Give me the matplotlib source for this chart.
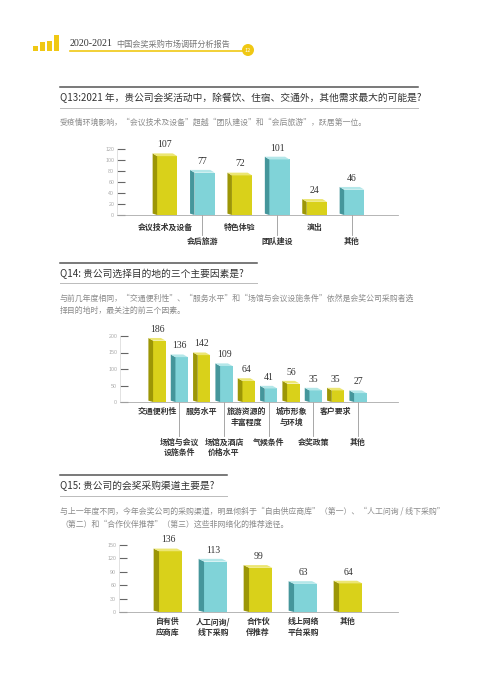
import numpy as np
import matplotlib
matplotlib.use('Agg')
import matplotlib.pyplot as plt
from matplotlib.patches import Rectangle, Circle
from matplotlib.transforms import blended_transform_factory

plt.rcParams['font.family'] = ['Noto Sans CJK SC', 'DejaVu Sans']

# Q13
q13_labels = ['会议技术及设备', '会后旅游', '特色体验', '团队建设', '演出', '其他']
q13_values = [107, 77, 72, 101, 24, 46]
q13_ticks = [0, 20, 40, 60, 80, 100, 120]

# Q14
q14_labels = ['交通便利性', '场馆与会议\n设施条件', '服务水平', '场馆及酒店\n价格水平',
              '旅游资源的\n丰富程度', '气候条件', '城市形象\n与环境', '会奖政策',
              '客户要求', '其他']
q14_values = [186, 136, 142, 109, 64, 41, 56, 35, 35, 27]
q14_ticks = [0, 50, 100, 150, 200]

# Q15
q15_labels = ['自有供\n应商库', '人工问询/\n线下采购', '合作伙\n伴推荐', '线上网络\n平台采购', '其他']
q15_values = [136, 113, 99, 63, 64]
q15_ticks = [0, 30, 60, 90, 120, 150]

PALETTE = {
    'y': ('#d9d11a', '#9c9606', '#ece673'),
    'c': ('#80d3d8', '#45969b', '#b4e7e9'),
}

W, H = 500, 696
fig = plt.figure(figsize=(5, 6.96), dpi=100)

# overlay in pixel coordinates for rules / header
bg = fig.add_axes([0, 0, 1, 1], zorder=0)
bg.set_xlim(0, W)
bg.set_ylim(H, 0)
bg.axis('off')

# header logo
for x, h in zip([33, 40, 47, 54], [5, 9, 10, 16]):
    bg.add_patch(Rectangle((x, 51 - h), 5, h, color='#f0c814', lw=0))
bg.plot([70, 246], [51, 51], color='#f0c814', lw=1.2)
bg.add_patch(Circle((248, 50), 6, color='#f0c814', lw=0))
bg.text(248, 50.5, '12', color='white', fontsize=4, ha='center', va='center')
bg.text(70, 44, '2020-2021', fontsize=7.2, family='Liberation Serif', color='#333333',
        va='center')
bg.text(116, 44, '中国会奖采购市场调研分析报告', fontsize=5.9, color='#777777', va='center')


def section(y_top, y_low, x_end, title, lines, y_lines):
    bg.plot([60, x_end], [y_top, y_top], color='#555555', lw=1.1)
    bg.plot([60, x_end], [y_low, y_low], color='#bbbbbb', lw=0.7)
    bg.text(60, (y_top + y_low) / 2 + 0.5, title, fontsize=7.0, color='#333333', va='center')
    for ln, yy in zip(lines, y_lines):
        bg.text(60, yy, ln, fontsize=5.7, color='#8a8a8a', va='center')


section(87, 108, 418, 'Q13:2021 年，贵公司会奖活动中，除餐饮、住宿、交通外，其他需求最大的可能是?',
        ['受疫情环境影响，“会议技术及设备”超越“团队建设”和“会后旅游”，跃居第一位。'], [122])
section(263, 283, 257, 'Q14: 贵公司选择目的地的三个主要因素是?',
        ['与前几年度相同，“交通便利性”、“服务水平”和“场馆与会议设施条件”依然是会奖公司采购者选',
         '择目的地时，最关注的前三个因素。'], [298, 310])
section(475, 496, 227, 'Q15: 贵公司的会奖采购渠道主要是?',
        ['与上一年度不同，今年会奖公司的采购渠道，明显倾斜于“自由供应商库”（第一）、“人工问询 / 线下采购”',
         '（第二）和“合作伙伴推荐”（第三）这些非网络化的推荐途径。'], [511, 524])


def make_ax(left, right, y0, y1):
    return fig.add_axes([left / W, 1 - y0 / H, (right - left) / W, (y0 - y1) / H], zorder=2)


def draw_chart(ax, labels, values, ticks, xlim, w, d, e, rows):
    n = len(values)
    xs = np.arange(n)
    ax.set_xlim(*xlim)
    ax.set_ylim(ticks[0], ticks[-1])
    ax.patch.set_alpha(0)
    for s in ['top', 'right']:
        ax.spines[s].set_visible(False)
    ax.spines['left'].set_color('#dddddd')
    ax.spines['left'].set_linewidth(0.6)
    ax.spines['bottom'].set_color('#aaaaaa')
    ax.spines['bottom'].set_linewidth(0.6)
    ax.set_yticks(ticks)
    ax.set_yticklabels([str(t) for t in ticks], fontsize=3.8, color='#aaaaaa',
                       family='Liberation Sans')
    ax.tick_params(axis='y', direction='in', length=6, width=0.8, color='#666666', pad=2)
    ax.set_xticks([])
    for x, v in zip(xs, values):
        front, side, top = PALETTE['y' if x % 2 == 0 else 'c']
        x0 = x - w / 2 + d / 2
        ax.bar(x0, v, width=w, align='edge', color=front, lw=0, zorder=3)
        ax.fill([x0 - d, x0, x0, x0 - d], [e * 0.5, 0, v, v + e], color=side, lw=0,
                zorder=3, clip_on=False)
        ax.fill([x0 - d, x0, x0 + w, x0 + w - d], [v + e, v, v, v + e], color=top, lw=0,
                zorder=3, clip_on=False)
        ax.annotate(str(v), (x, v + e), xytext=(0, 3), textcoords='offset points',
                    ha='center', va='bottom', fontsize=7, family='Liberation Serif',
                    color='#333333', annotation_clip=False)
    tr = blended_transform_factory(ax.transData, ax.transAxes)
    for x, lab in zip(xs, labels):
        if rows is None:
            yt = -0.08
        elif x % 2 == 0:
            yt = rows[0]
        else:
            yt = rows[1]
            ax.plot([x, x], [0, rows[2]], color='#999999', lw=0.6, transform=tr,
                    clip_on=False)
        ax.text(x, yt, lab, transform=tr, ha='center', va='top', fontsize=5.7,
                fontweight='bold', color='#333333', linespacing=1.25)


ax1 = make_ax(117, 398, 215, 149)
draw_chart(ax1, q13_labels, q13_values, q13_ticks, (-1.283, 6.23), 0.54, 0.12, 5.0,
           (-0.12, -0.33, -0.30))

ax2 = make_ax(120, 398, 402, 336)
draw_chart(ax2, q14_labels, q14_values, q14_ticks, (-1.657, 10.79), 0.56, 0.21, 8.0,
           (-0.08, -0.54, -0.52))

ax3 = make_ax(119, 398, 612, 545)
draw_chart(ax3, q15_labels, q15_values, q15_ticks, (-1.09, 5.11), 0.52, 0.12, 6.0, None)

fig.savefig('out.png', dpi=100, facecolor='white')
